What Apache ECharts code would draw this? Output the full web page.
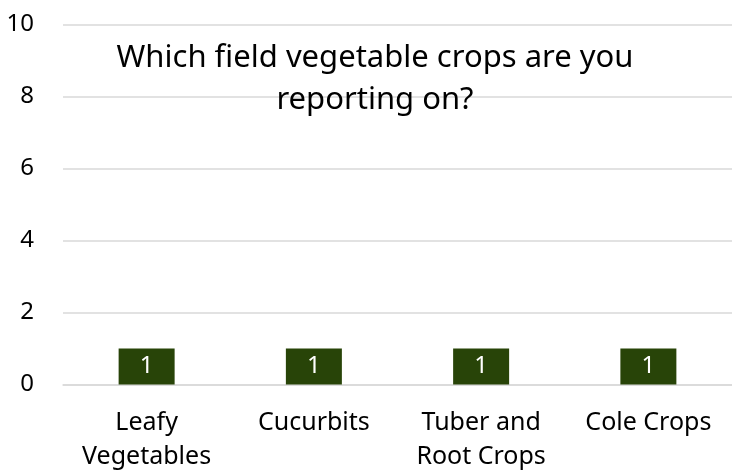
<!DOCTYPE html>
<html>
<head>
<meta charset="UTF-8">
<script src="https://cdn.jsdelivr.net/npm/echarts@6/dist/echarts.min.js"></script>
<style>
  html, body { margin: 0; padding: 0; background: #fff; }
  #main { width: 732px; height: 472px; }
</style>
</head>
<body>
<div id="main"></div>
<script>
  // data
  const categories = ['Leafy\nVegetables', 'Cucurbits', 'Tuber and\nRoot Crops', 'Cole Crops'];
  const counts = [1, 1, 1, 1];

  const chart = echarts.init(document.getElementById('main'));
  const font = '"Noto Sans", "Open Sans", sans-serif';

  chart.setOption({
    animation: false,
    textStyle: { fontFamily: font },
    title: {
      text: 'Which field vegetable crops are you\nreporting on?',
      left: 370,
      top: 32,
      textAlign: 'center',
      textStyle: { fontFamily: font, fontSize: 31, fontWeight: 'normal', color: '#000', lineHeight: 42 }
    },
    grid: { left: 63, right: 0, top: 24.5, bottom: 87.5, outerBoundsMode: 'none', containLabel: false },
    xAxis: {
      type: 'category',
      data: categories,
      axisLine: { lineStyle: { color: '#d9d9d9', width: 1.5 } },
      axisTick: { show: false },
      axisLabel: { color: '#000', fontSize: 25, lineHeight: 34, margin: 21, interval: 0 }
    },
    yAxis: {
      type: 'value',
      min: 0,
      max: 10,
      interval: 2,
      axisLine: { show: false },
      axisTick: { show: false },
      splitLine: { lineStyle: { color: '#d9d9d9', width: 1.5 } },
      axisLabel: { color: '#000', fontSize: 24, margin: 29 }
    },
    series: [{
      type: 'bar',
      data: counts,
      barWidth: 56,
      itemStyle: { color: '#284408' },
      label: {
        show: true,
        position: 'inside',
        color: '#fff',
        fontSize: 24
      }
    }]
  });
</script>
</body>
</html>
